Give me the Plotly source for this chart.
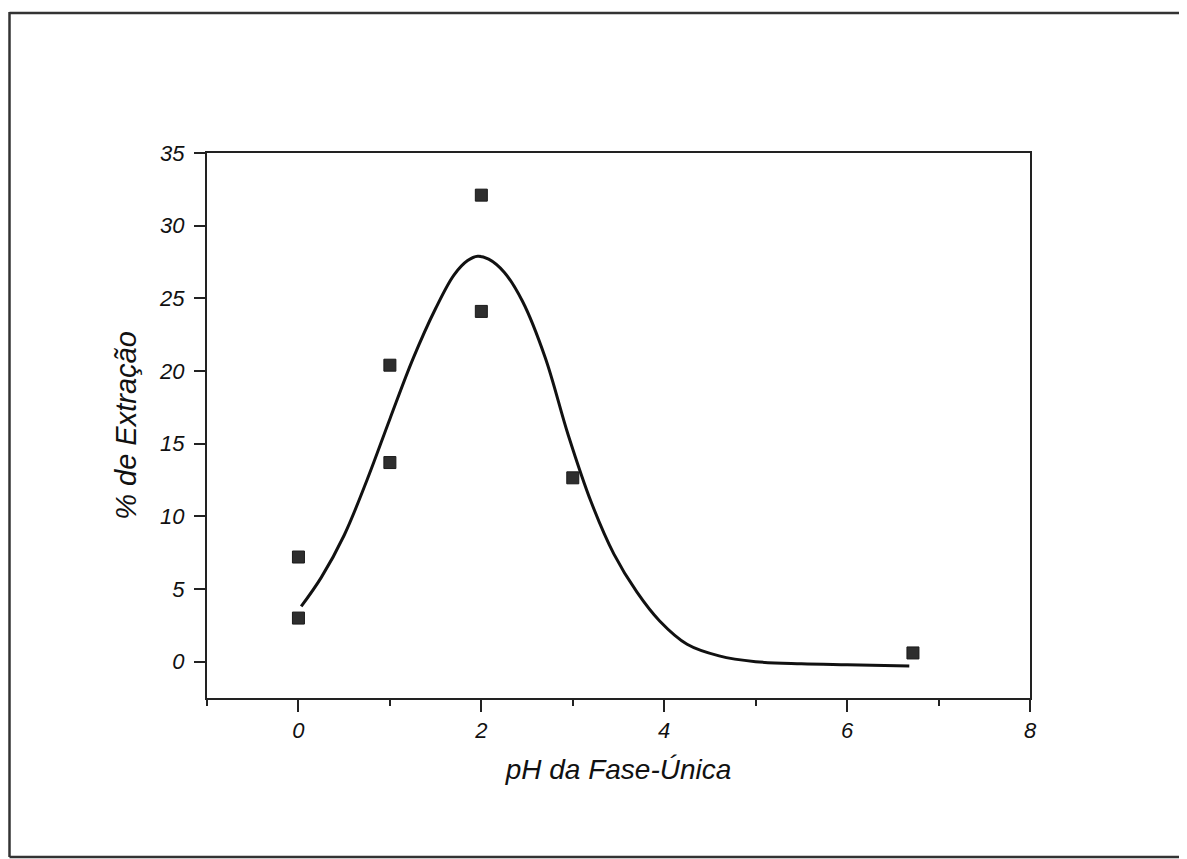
import plotly.graph_objects as go

# Experimental data points
ph_points = [0, 0, 1, 1, 2, 2, 3, 6.72]
extraction_points = [7.2, 3.0, 20.4, 13.7, 32.1, 24.1, 12.65, 0.6]

# Fitted curve
curve_ph = [0.03, 0.25, 0.5, 0.75, 1.0, 1.25, 1.5, 1.7, 1.85, 1.96, 2.08, 2.25, 2.45,
            2.7, 2.95, 3.2, 3.45, 3.7, 3.95, 4.25, 4.6, 5.0, 5.5, 6.0, 6.68]
curve_extraction = [3.8, 5.8, 8.7, 12.5, 16.7, 20.8, 24.3, 26.6, 27.6, 27.9, 27.7, 26.8, 24.8,
                    20.9, 15.6, 11.0, 7.4, 4.8, 2.8, 1.2, 0.4, 0.0, -0.15, -0.22, -0.3]

x_ticks = [0, 2, 4, 6, 8]
y_ticks = [0, 5, 10, 15, 20, 25, 30, 35]

FONT = "Liberation Sans, Arial, sans-serif"

fig = go.Figure()
fig.add_trace(go.Scatter(
    x=curve_ph, y=curve_extraction, mode="lines",
    line=dict(color="#111111", width=3, shape="spline", smoothing=1),
    showlegend=False, hoverinfo="skip"))
fig.add_trace(go.Scatter(
    x=ph_points, y=extraction_points, mode="markers",
    marker=dict(symbol="square", size=12, color="#2e2e2e",
                line=dict(color="#1a1a1a", width=1)),
    showlegend=False))

# figure coordinates (page body has an 8px margin)
L, R, T, B = 199, 1022, 145, 690
W, H = 1179, 851
pw, ph = R - L, B - T

def px(xp):
    return (xp - L) / pw

def py(yp):
    return (B - yp) / ph

# Outer scanned border (left, top, bottom)
fig.add_shape(type="line", xref="paper", yref="paper",
              x0=px(1.5), x1=px(1200), y0=py(5), y1=py(5),
              line=dict(color="#333333", width=2.5))
fig.add_shape(type="line", xref="paper", yref="paper",
              x0=px(1.5), x1=px(1.5), y0=py(4), y1=py(849),
              line=dict(color="#333333", width=2.5))
fig.add_shape(type="line", xref="paper", yref="paper",
              x0=px(1.5), x1=px(1200), y0=py(849), y1=py(849),
              line=dict(color="#333333", width=2.5))

fig.update_layout(
    width=W, height=H,
    margin=dict(l=L, r=W - R, t=T, b=H - B),
    paper_bgcolor="white", plot_bgcolor="white",
    font=dict(family=FONT, color="#111111"),
)

fig.update_xaxes(
    range=[-1, 8], tickvals=x_ticks, ticktext=[str(v) for v in x_ticks],
    showgrid=False, zeroline=False,
    showline=True, linecolor="#222222", linewidth=2, mirror=True,
    ticks="outside", ticklen=12, tickwidth=2, tickcolor="#222222",
    minor=dict(dtick=1, tick0=-1, ticklen=6, tickwidth=2, tickcolor="#222222", ticks="outside"),
    tickfont=dict(family=FONT, size=22, style="italic"),
    ticklabelstandoff=0,
    title=dict(text="pH da Fase-Única", font=dict(family=FONT, size=28, style="italic"),
               standoff=17),
)
fig.update_yaxes(
    range=[-2.5, 35], tickvals=y_ticks, ticktext=[str(v) for v in y_ticks],
    showgrid=False, zeroline=False,
    showline=True, linecolor="#222222", linewidth=2, mirror=True,
    ticks="outside", ticklen=11, tickwidth=2, tickcolor="#222222",
    tickfont=dict(family=FONT, size=22, style="italic"),
    ticklabelstandoff=5,
    title=dict(text="% de Extração", font=dict(family=FONT, size=29, style="italic"),
               standoff=14),
)

fig.write_html("out.html")
